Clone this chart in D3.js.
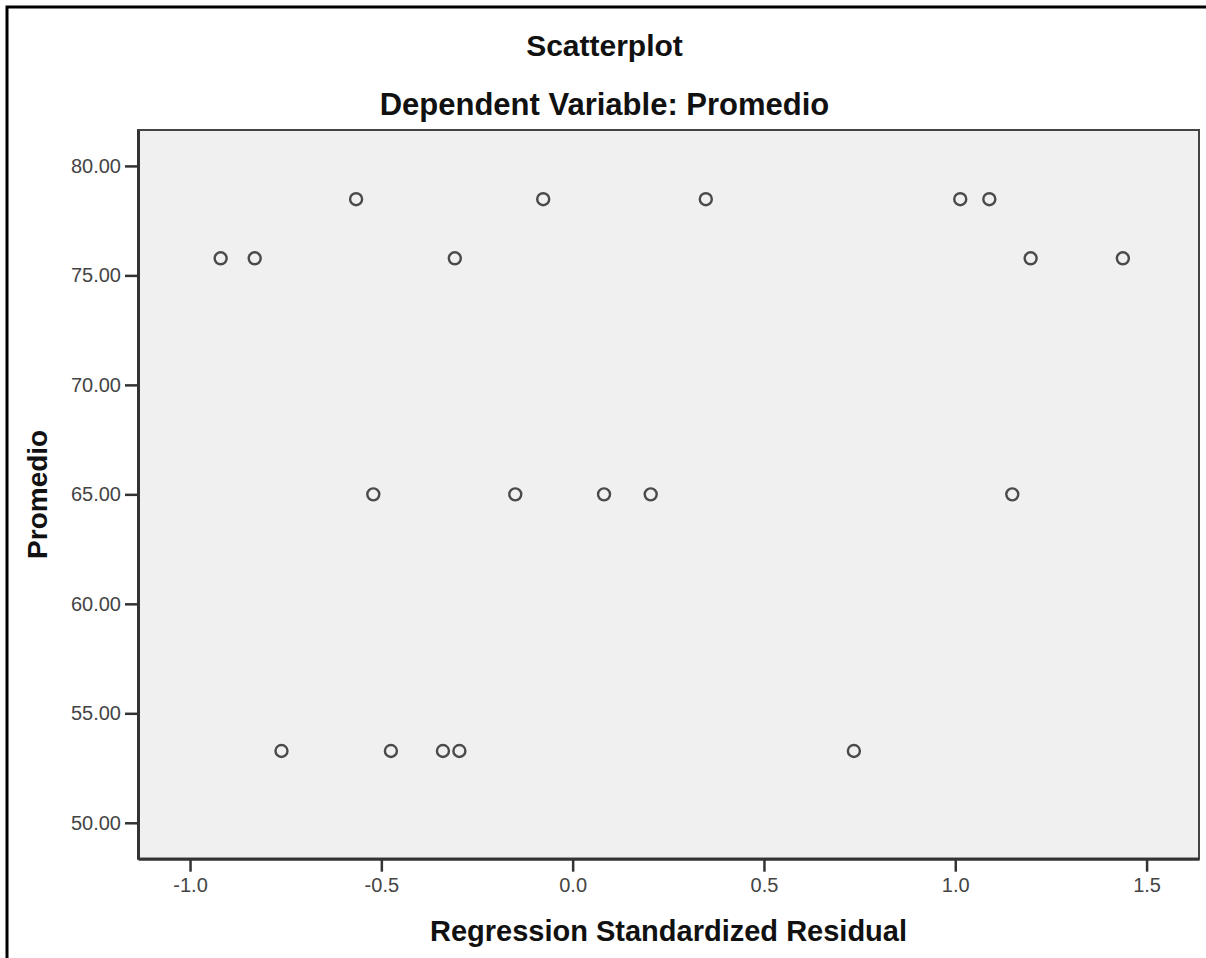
<!DOCTYPE html>
<html>
<head>
<meta charset="utf-8">
<script src="https://cdn.jsdelivr.net/npm/d3@7/dist/d3.min.js"></script>
<style>
  body { margin: 0; background: #fff; }
  svg { display: block; font-family: Arial, "Liberation Sans", sans-serif; }
</style>
</head>
<body>
<div class="svgContainer"></div>
<script>
// values
let residuals = [
  -0.566, -0.077, 0.348, 1.013, 1.089,
  -0.920, -0.831, -0.308, 1.197, 1.438,
  -0.521, -0.150, 0.082, 0.204, 1.149,
  -0.761, -0.475, -0.339, -0.296, 0.735
];
let promedio = [
  78.48, 78.48, 78.48, 78.48, 78.48,
  75.78, 75.78, 75.78, 75.78, 75.78,
  65.0, 65.0, 65.0, 65.0, 65.0,
  53.28, 53.28, 53.28, 53.28, 53.28
];
let yTicks = [50, 55, 60, 65, 70, 75, 80];
let xTicks = [-1.0, -0.5, 0.0, 0.5, 1.0, 1.5];

let width = 1206,
  height = 958,
  plotLeft = 138,
  plotRight = 1199,
  plotTop = 130,
  plotBottom = 858.7;

let svg = d3
  .select(".svgContainer")
  .append("svg")
  .attr("width", width)
  .attr("height", height);

// outer frame (cut off at right and bottom)
svg
  .append("rect")
  .attr("x", 7)
  .attr("y", 7)
  .attr("width", 1220)
  .attr("height", 980)
  .attr("fill", "none")
  .attr("stroke", "#000")
  .attr("stroke-width", 3);

let xScale = d3
  .scaleLinear()
  .domain([-1.136, 1.637])
  .range([plotLeft, plotRight]);

let yScale = d3
  .scaleLinear()
  .domain([48.36, 81.64])
  .range([plotBottom, plotTop]);

// plot background
svg
  .append("rect")
  .attr("x", plotLeft)
  .attr("y", plotTop)
  .attr("width", plotRight - plotLeft)
  .attr("height", plotBottom - plotTop)
  .attr("fill", "#f0f0f0")
  .attr("stroke", "#444")
  .attr("stroke-width", 2);

let yAxis = d3
  .axisLeft(yScale)
  .tickValues(yTicks)
  .tickFormat(d => d.toFixed(2))
  .tickSize(13)
  .tickSizeOuter(0)
  .tickPadding(4);

let yAxisGroup = svg
  .append("g")
  .attr("transform", "translate(" + plotLeft + ",0)")
  .call(yAxis);

let xAxis = d3
  .axisBottom(xScale)
  .tickValues(xTicks)
  .tickFormat(d => d.toFixed(1))
  .tickSize(13)
  .tickSizeOuter(0)
  .tickPadding(6);

let xAxisGroup = svg
  .append("g")
  .attr("transform", "translate(0," + plotBottom + ")")
  .call(xAxis);

[yAxisGroup, xAxisGroup].forEach(g => {
  g.select(".domain").attr("stroke", "#333").attr("stroke-width", 3);
  g.selectAll(".tick line").attr("stroke", "#333").attr("stroke-width", 2.5);
  g.selectAll(".tick text")
    .attr("fill", "#444")
    .style("font-size", "20px")
    .style("font-family", "Arial, 'Liberation Sans', sans-serif");
});

// points
svg
  .append("g")
  .selectAll("circle")
  .data(residuals)
  .enter()
  .append("circle")
  .attr("cx", d => xScale(d))
  .attr("cy", (d, i) => yScale(promedio[i]))
  .attr("r", 6)
  .attr("fill", "none")
  .attr("stroke", "#4a4a4a")
  .attr("stroke-width", 2.4);

// titles
svg
  .append("text")
  .attr("x", (plotLeft + plotRight) / 2 - 64)
  .attr("y", 56)
  .attr("text-anchor", "middle")
  .style("font-size", "30px")
  .style("font-weight", "bold")
  .attr("fill", "#111")
  .text("Scatterplot");

svg
  .append("text")
  .attr("x", (plotLeft + plotRight) / 2 - 64)
  .attr("y", 115)
  .attr("text-anchor", "middle")
  .style("font-size", "31px")
  .style("font-weight", "bold")
  .attr("fill", "#111")
  .text("Dependent Variable: Promedio");

svg
  .append("text")
  .attr("x", (plotLeft + plotRight) / 2)
  .attr("y", 941)
  .attr("text-anchor", "middle")
  .style("font-size", "29px")
  .style("font-weight", "bold")
  .attr("fill", "#111")
  .text("Regression Standardized Residual");

svg
  .append("text")
  .attr("transform", "rotate(-90)")
  .attr("x", -(plotTop + plotBottom) / 2)
  .attr("y", 47)
  .attr("text-anchor", "middle")
  .style("font-size", "28px")
  .style("font-weight", "bold")
  .attr("fill", "#111")
  .text("Promedio");
</script>
</body>
</html>
